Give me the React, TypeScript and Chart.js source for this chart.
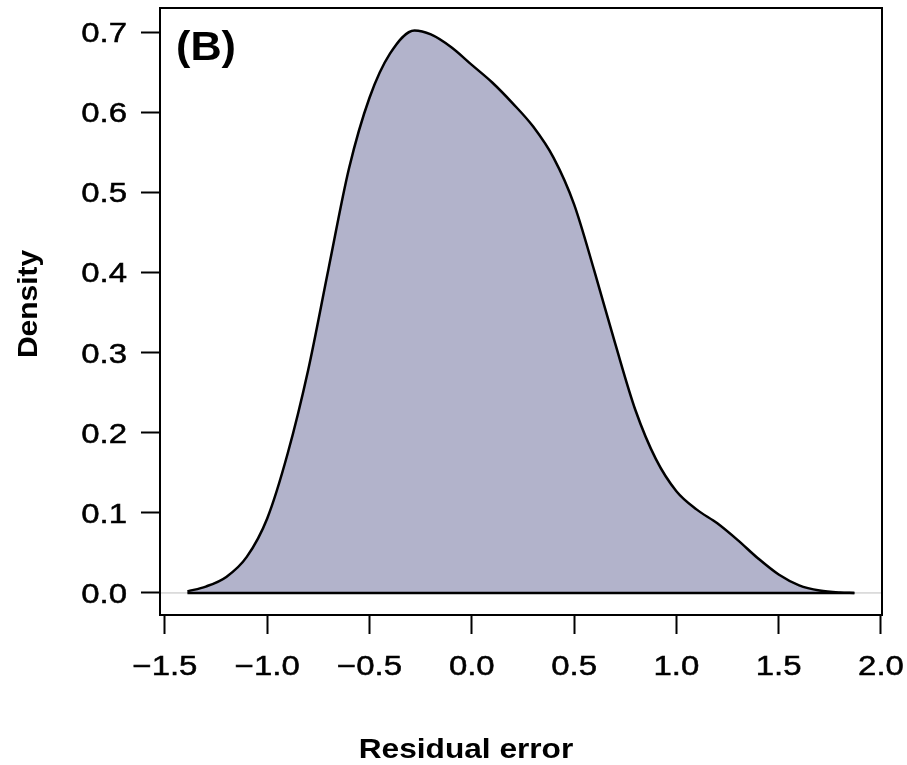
import React, { useEffect, useRef } from 'react';
import { Chart, registerables } from 'chart.js';

Chart.register(...registerables);

// Kernel density estimate of residual error
const densityX = [-1.39, -1.3, -1.2, -1.1, -1.0, -0.9, -0.8, -0.7, -0.6, -0.5, -0.4, -0.28, -0.2, -0.1, 0.0, 0.1, 0.2, 0.3, 0.4, 0.5, 0.6, 0.7, 0.8, 0.9, 1.0, 1.1, 1.2, 1.3, 1.4, 1.5, 1.6, 1.7, 1.8, 1.87];
const densityY = [0.002, 0.008, 0.020, 0.045, 0.093, 0.174, 0.278, 0.405, 0.530, 0.618, 0.673, 0.702, 0.697, 0.681, 0.659, 0.637, 0.611, 0.582, 0.543, 0.485, 0.401, 0.312, 0.228, 0.167, 0.127, 0.104, 0.087, 0.066, 0.043, 0.023, 0.0095, 0.003, 0.0005, 0.0];

const xTicks = [-1.5, -1.0, -0.5, 0.0, 0.5, 1.0, 1.5, 2.0];
const xTickLabels = ['\u22121.5', '\u22121.0', '\u22120.5', '0.0', '0.5', '1.0', '1.5', '2.0'];
const yTicks = [0.0, 0.1, 0.2, 0.3, 0.4, 0.5, 0.6, 0.7];
const yTickLabels = ['0.0', '0.1', '0.2', '0.3', '0.4', '0.5', '0.6', '0.7'];

const xLimits = [-1.524, 2.005];
const yLimits = [-0.0275, 0.730];

const panelLabel = '(B)';
const xTitle = 'Residual error';
const yTitle = 'Density';

const FONT = '"Liberation Sans", Arial, Helvetica, sans-serif';

const textPlugin = {
  id: 'rStyleText',
  afterDraw(chart: any) {
    const { ctx, chartArea: ca, scales } = chart;
    const xs = scales.x;
    const ys = scales.y;
    ctx.save();
    ctx.strokeStyle = '#000';
    ctx.lineWidth = 2;
    ctx.strokeRect(ca.left, ca.top, ca.right - ca.left, ca.bottom - ca.top);
    ctx.fillStyle = '#000';
    const drawText = (
      text: string, x: number, y: number, font: string, align: CanvasTextAlign, sx: number, rot = 0, stroke = 0
    ) => {
      ctx.save();
      ctx.translate(x, y);
      if (rot) ctx.rotate(rot);
      ctx.scale(sx, 1);
      ctx.font = font;
      ctx.textAlign = align;
      ctx.textBaseline = 'alphabetic';
      ctx.fillText(text, 0, 0);
      if (stroke) {
        ctx.lineWidth = stroke;
        ctx.strokeStyle = '#000';
        ctx.strokeText(text, 0, 0);
      }
      ctx.restore();
    };
    yTicks.forEach((v, i) =>
      drawText(yTickLabels[i], ca.left - 33, ys.getPixelForValue(v) + 10, `27px ${FONT}`, 'right', 1.22, 0, 0.5)
    );
    xTicks.forEach((v, i) =>
      drawText(xTickLabels[i], xs.getPixelForValue(v), ca.bottom + 60, `27px ${FONT}`, 'center', 1.22, 0, 0.5)
    );
    drawText(panelLabel, ca.left + 16, ca.top + 52, `bold 40px ${FONT}`, 'left', 1.08);
    drawText(xTitle, 466, 758, `bold 28px ${FONT}`, 'center', 1.13);
    drawText(yTitle, 37, 304, `bold 28px ${FONT}`, 'center', 1.07, -Math.PI / 2);
    ctx.restore();
  },
};

export default function App() {
  const canvasRef = useRef<HTMLCanvasElement | null>(null);

  useEffect(() => {
    if (!canvasRef.current) return;
    const curve = densityX.map((x, i) => ({ x, y: densityY[i] }));
    const base = [
      { x: densityX[0], y: 0 },
      { x: densityX[densityX.length - 1], y: 0 },
    ];
    const zeroLine = [
      { x: xLimits[0], y: 0 },
      { x: xLimits[1], y: 0 },
    ];
    const chart = new Chart(canvasRef.current, {
      type: 'line',
      data: {
        datasets: [
          {
            data: base,
            borderColor: '#000',
            borderWidth: 2.5,
            pointRadius: 0,
            fill: false,
          },
          {
            data: curve,
            borderColor: '#000',
            borderWidth: 2.5,
            backgroundColor: '#B2B3CB',
            fill: 'origin',
            pointRadius: 0,
            cubicInterpolationMode: 'monotone',
          },
          {
            data: zeroLine,
            borderColor: '#BEBEBE',
            borderWidth: 1,
            pointRadius: 0,
            fill: false,
          },
        ],
      },
      options: {
        responsive: false,
        animation: false,
        devicePixelRatio: 1,
        parsing: false,
        layout: { padding: { left: 0, top: 8, right: 25, bottom: 0 } },
        plugins: { legend: { display: false }, tooltip: { enabled: false } },
        scales: {
          x: {
            type: 'linear',
            min: xLimits[0],
            max: xLimits[1],
            afterBuildTicks: (s: any) => {
              s.ticks = xTicks.map((v) => ({ value: v }));
            },
            afterFit: (s: any) => {
              s.height = 150;
            },
            ticks: { display: false },
            border: { display: false },
            grid: {
              drawOnChartArea: false,
              drawTicks: true,
              tickLength: 19,
              tickColor: '#000',
              tickWidth: 2,
            },
          },
          y: {
            type: 'linear',
            min: yLimits[0],
            max: yLimits[1],
            afterBuildTicks: (s: any) => {
              s.ticks = yTicks.map((v) => ({ value: v }));
            },
            afterFit: (s: any) => {
              s.width = 160;
            },
            ticks: { display: false },
            border: { display: false },
            grid: {
              drawOnChartArea: false,
              drawTicks: true,
              tickLength: 19,
              tickColor: '#000',
              tickWidth: 2,
            },
          },
        },
      },
      plugins: [textPlugin],
    });
    return () => chart.destroy();
  }, []);

  return (
    <div style={{ position: 'absolute', left: 0, top: 0, width: 907, height: 765, background: '#fff' }}>
      <canvas ref={canvasRef} width={907} height={765} />
    </div>
  );
}
